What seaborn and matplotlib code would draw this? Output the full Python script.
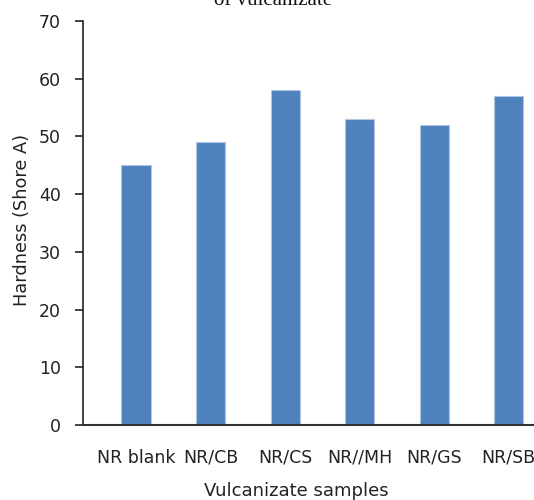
import matplotlib
matplotlib.use("Agg")
import matplotlib.pyplot as plt
import seaborn as sns
import pandas as pd

categories = ["NR blank", "NR/CB", "NR/CS", "NR//MH", "NR/GS", "NR/SB"]
hardness = [45, 49, 58, 53, 52, 57]
yticks = [0, 10, 20, 30, 40, 50, 60, 70]

sns.set_theme(style="white")
plt.rcParams['font.family'] = ['DejaVu Sans']

W, H = 534, 500
fig = plt.figure(figsize=(W / 100, H / 100), dpi=100)
ax = fig.add_axes([83 / W, 75 / H, (W - 83) / W, (425 - 21) / H])

df = pd.DataFrame({"sample": categories, "hardness": hardness})
sns.barplot(data=df, x="sample", y="hardness", color="#4F81BD", saturation=1,
            width=0.39, edgecolor="#B0C6E2", linewidth=0.8, ax=ax)

ax.set_ylim(0, 70)
ax.set_yticks(yticks)
ax.set_xlim(-0.711, 5.34)
ax.set_xlabel("")
ax.set_ylabel("")

for s in ["top", "right"]:
    ax.spines[s].set_visible(False)
ax.spines["left"].set_color("#222222")
ax.spines["left"].set_linewidth(1.2)
ax.spines["bottom"].set_color("#333333")
ax.spines["bottom"].set_linewidth(1.5)

ax.tick_params(axis="y", left=True, length=6, width=1.2, color="#222222",
               labelsize=12.5, labelcolor="#222222", pad=10)
ax.tick_params(axis="x", bottom=False, labelsize=12.5, labelcolor="#222222", pad=11)

fig.text(22 / W, 1 - 220 / H, "Hardness (Shore A)", rotation=90, ha="center", va="center",
         fontsize=12.8, color="#222222")
fig.text(296 / W, 1 - 491 / H, "Vulcanizate samples", ha="center", va="center",
         fontsize=13, color="#222222")
fig.text(273 / W, 1 - 5 / H, "of vulcanizate", ha="center", va="baseline",
         fontsize=15, family="Liberation Serif", color="#111111")

fig.savefig("out.png", dpi=100)
